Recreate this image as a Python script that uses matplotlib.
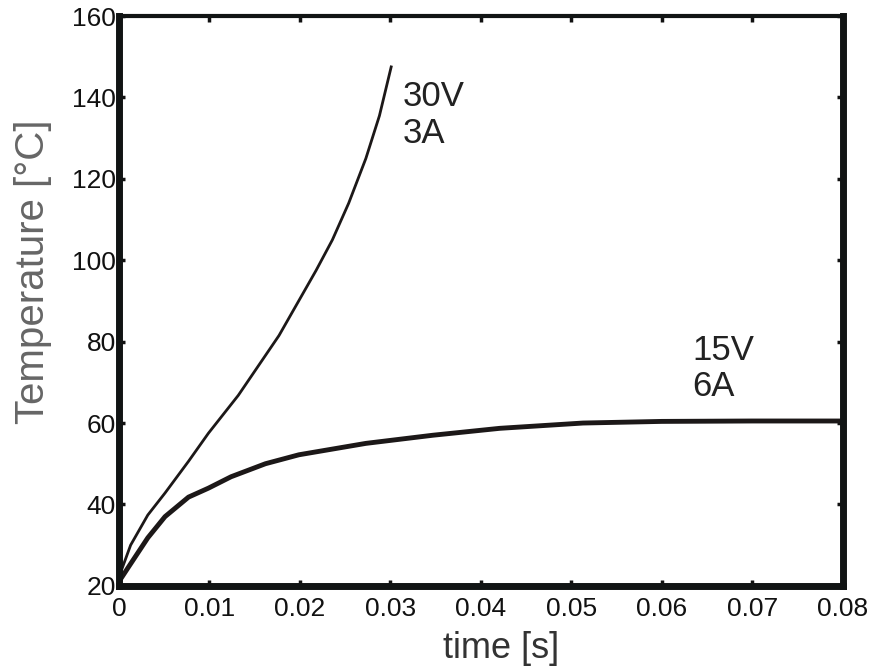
import matplotlib
matplotlib.use('Agg')
import matplotlib.pyplot as plt

# 30V / 3A curve
t_30v = [0.0, 0.0001, 0.0013, 0.0032, 0.0051, 0.0077, 0.0099, 0.0132, 0.0177,
         0.0218, 0.0236, 0.0254, 0.0273, 0.0288, 0.0301]
T_30v = [21.0, 22.7, 30.0, 37.4, 42.8, 50.6, 57.5, 66.8, 81.5,
         97.5, 105.0, 114.0, 125.0, 135.5, 147.5]

# 15V / 6A curve
t_15v = [0.0, 0.001, 0.0032, 0.0051, 0.0077, 0.0099, 0.0124, 0.0162, 0.0199,
         0.0273, 0.0347, 0.0421, 0.0513, 0.06, 0.07, 0.08]
T_15v = [21.0, 24.4, 31.8, 37.0, 41.8, 44.0, 46.8, 50.0, 52.2,
         55.0, 57.0, 58.7, 60.0, 60.4, 60.5, 60.5]

xticks = [0, 0.01, 0.02, 0.03, 0.04, 0.05, 0.06, 0.07, 0.08]
xtick_labels = ['0', '0.01', '0.02', '0.03', '0.04', '0.05', '0.06', '0.07', '0.08']
yticks = [20, 40, 60, 80, 100, 120, 140, 160]

plt.rcParams['font.family'] = ['Liberation Sans', 'DejaVu Sans']

fig = plt.figure(figsize=(8.87, 6.68), dpi=100)
ax = fig.add_axes([0.134, 0.123, 0.816, 0.853])

ax.plot(t_30v, T_30v, color='#1c1818', lw=2.0)
ax.plot(t_15v, T_15v, color='#1c1818', lw=3.5)

ax.text(0.0314, 135.7, '30V\n3A', fontsize=25, color='#222222', va='center',
        ha='left', linespacing=1.15)
ax.text(0.0634, 73.4, '15V\n6A', fontsize=25, color='#222222', va='center',
        ha='left', linespacing=1.15)

ax.set_xlim(0, 0.08)
ax.set_ylim(20, 160)
ax.set_xticks(xticks)
ax.set_xticklabels(xtick_labels)
ax.set_yticks(yticks)

ax.tick_params(direction='in', length=4, width=2.5, labelsize=19,
               top=True, right=True, colors='#111111')
ax.tick_params(axis='x', pad=8)
ax.tick_params(axis='y', pad=2)
for side in ['left', 'right', 'bottom']:
    ax.spines[side].set_linewidth(5)
    ax.spines[side].set_color('#111414')
ax.spines['top'].set_linewidth(3)
ax.spines['top'].set_color('#111414')

ax.set_xlabel('time [s]', fontsize=26, color='#333333')
ax.set_ylabel('Temperature [°C]', fontsize=29, color='#666666')
ax.xaxis.set_label_coords(0.528, -0.08)
ax.yaxis.set_label_coords(-0.092, 0.551)

fig.savefig('out.png', dpi=100)
